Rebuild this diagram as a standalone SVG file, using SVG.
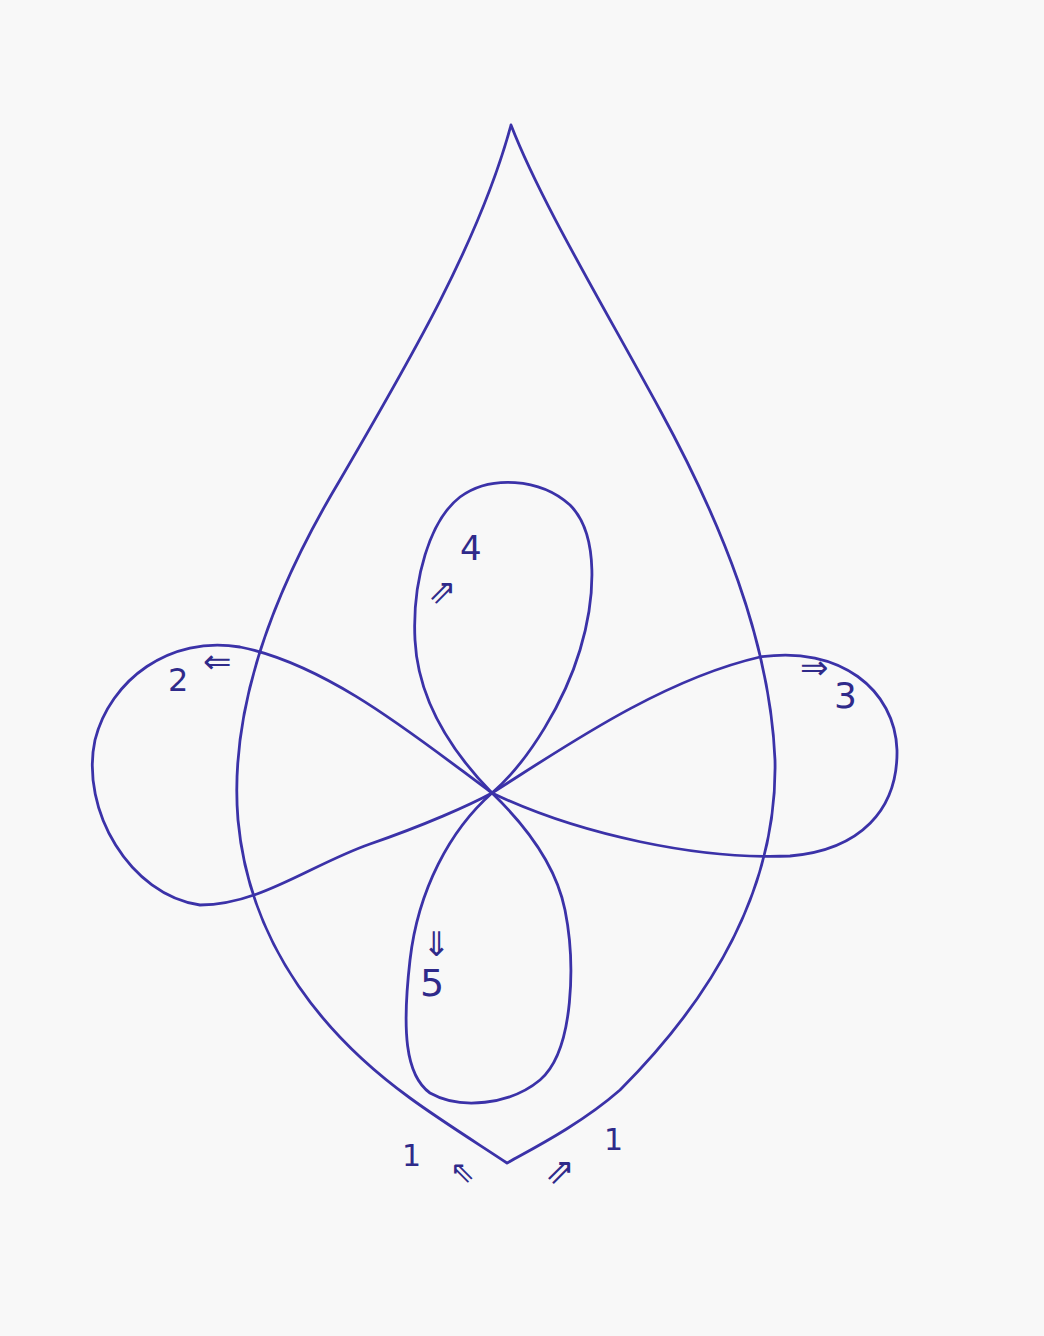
<svg xmlns="http://www.w3.org/2000/svg" width="1044" height="1336" viewBox="0 0 1044 1336">
<style>
.ln{fill:none;stroke:#3b32a8;stroke-width:2.8;stroke-linecap:round;stroke-linejoin:round}
.lb{font-family:"DejaVu Sans",sans-serif;fill:#2f2a8a}
</style>
<rect width="1044" height="1336" fill="#f8f8f8"/>
<g id="drop">
<path class="ln" d="M511,125 C540,200 600,300 660,410 C720,520 770,640 775,760 C778,900 700,1010 620,1090 C580,1125 530,1150 507,1163 C480,1145 440,1120 410,1098 C330,1040 250,950 238,820 C228,700 280,580 340,480 C410,360 480,240 511,125"/>
</g>
<g id="loop2">
<path class="ln" d="M492,793 C420,740 330,665 240,647 C170,635 110,680 95,740 C80,810 130,895 200,905 C260,905 310,865 370,844 C425,825 470,805 492,793"/>
</g>
<g id="loop3">
<path class="ln" d="M492,793 C560,750 660,680 760,657 C840,645 895,690 897,750 C898,810 860,850 790,856 C700,860 580,835 492,793"/>
</g>
<g id="loop4">
<path class="ln" d="M492,793 C450,750 418,700 415,640 C412,580 430,520 460,497 C490,475 540,478 570,505 C600,535 595,600 580,650 C565,700 530,760 492,793"/>
</g>
<g id="loop5">
<path class="ln" d="M492,793 C450,830 418,890 410,960 C402,1030 405,1075 430,1093 C460,1110 510,1105 540,1080 C575,1050 575,960 565,910 C555,860 520,820 492,793"/>
</g>
<g id="labels">
<text class="lb" x="168" y="691" font-size="32">2</text>
<text class="lb" x="203" y="673" font-size="34">⇐</text>
<text class="lb" x="800" y="679" font-size="34">⇒</text>
<text class="lb" x="834" y="708" font-size="36">3</text>
<text class="lb" x="460" y="560" font-size="34">4</text>
<text class="lb" x="428" y="603" font-size="34">⇗</text>
<text class="lb" x="422" y="956" font-size="34">⇓</text>
<text class="lb" x="420" y="996" font-size="38">5</text>
<text class="lb" x="402" y="1166" font-size="30">1</text>
<text class="lb" x="450" y="1182" font-size="30">⇖</text>
<text class="lb" x="545" y="1183" font-size="36">⇗</text>
<text class="lb" x="604" y="1150" font-size="30">1</text>
</g>
</svg>
